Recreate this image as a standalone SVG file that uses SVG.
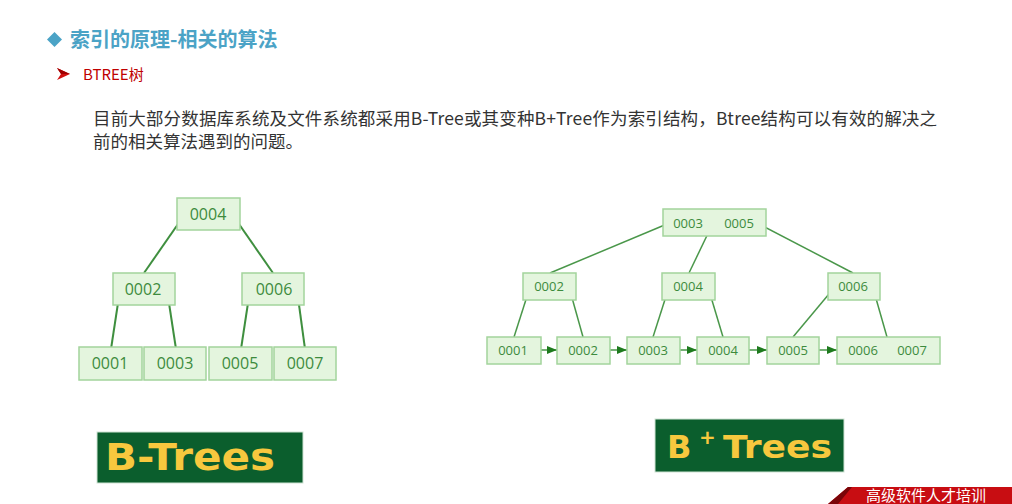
<svg xmlns="http://www.w3.org/2000/svg" width="1012" height="504" viewBox="0 0 1012 504">
<defs>
<style>
.cjk{font-family:"Noto Sans CJK SC","Noto Sans",sans-serif}
.box{fill:#e4f5de;stroke:#a3d49c;stroke-width:1.5}
.t16{font-family:"Open Sans","Noto Sans",sans-serif;font-size:16px;fill:#3d8b3d;text-anchor:middle;dominant-baseline:central}
.t13{font-family:"Open Sans","Noto Sans",sans-serif;font-size:13px;fill:#3d8b3d;text-anchor:middle;dominant-baseline:central}
.ln{stroke:#3f8f3f;stroke-width:2;fill:none}
.ln2{stroke:#4a974a;stroke-width:1.5;fill:none}
.lbl{font-family:"DejaVu Sans",sans-serif;font-weight:bold;fill:#f7c83e}
</style>
<marker id="ah" markerWidth="10" markerHeight="8" refX="10" refY="4" orient="auto" markerUnits="userSpaceOnUse">
<path d="M0,0 L10,4 L0,8 Z" fill="#1e7a1e"/>
</marker>
</defs>
<rect width="1012" height="504" fill="#ffffff"/>

<!-- header -->
<polygon points="54.5,32 62,39.5 54.5,47 47,39.5" fill="#4ba3c6"/>
<text x="70" y="47" class="cjk" font-size="20" font-weight="bold" fill="#4ba3c6">索引的原理-相关的算法</text>
<polygon points="57,68 70,74 57,80 61,74" fill="#d01010"/>
<polygon points="57,68 70,74 61,74" fill="#a00000"/>
<text x="83" y="80" class="cjk" font-size="15" fill="#c00000">BTREE树</text>
<text x="93" y="125" class="cjk" font-size="17.5" fill="#333333" textLength="844" lengthAdjust="spacing">目前大部分数据库系统及文件系统都采用B-Tree或其变种B+Tree作为索引结构，Btree结构可以有效的解决之</text>
<text x="93" y="148" class="cjk" font-size="17.5" fill="#333333">前的相关算法遇到的问题。</text>

<!-- connectors -->
<g id="connectors">
<line class="ln" x1="185" y1="214" x2="144" y2="273"/>
<line class="ln" x1="232" y1="214" x2="273" y2="273"/>
<line class="ln" x1="120" y1="290" x2="111" y2="349"/>
<line class="ln" x1="167" y1="290" x2="176" y2="349"/>
<line class="ln" x1="250" y1="290" x2="241" y2="349"/>
<line class="ln" x1="297" y1="290" x2="305" y2="349"/>

<line class="ln2" x1="667" y1="224" x2="550" y2="273"/>
<line class="ln2" x1="713" y1="223" x2="689" y2="273"/>
<line class="ln2" x1="759" y1="224" x2="853" y2="273"/>
<line class="ln2" x1="530" y1="287" x2="514" y2="337"/>
<line class="ln2" x1="569" y1="287" x2="583" y2="337"/>
<line class="ln2" x1="669" y1="287" x2="653" y2="337"/>
<line class="ln2" x1="708" y1="287" x2="723" y2="337"/>
<line class="ln2" x1="834" y1="288" x2="793" y2="337"/>
<line class="ln2" x1="873" y1="288" x2="887" y2="337"/>

<line class="ln2" x1="533" y1="350" x2="557" y2="350" marker-end="url(#ah)"/>
<line class="ln2" x1="603" y1="350" x2="627" y2="350" marker-end="url(#ah)"/>
<line class="ln2" x1="673" y1="350" x2="697" y2="350" marker-end="url(#ah)"/>
<line class="ln2" x1="743" y1="350" x2="767" y2="350" marker-end="url(#ah)"/>
<line class="ln2" x1="812" y1="350" x2="837" y2="350" marker-end="url(#ah)"/>
</g>

<!-- B-Tree nodes -->
<g id="bt-0004"><rect class="box" x="177" y="198" width="63" height="32"/><text class="t16" x="208" y="214">0004</text></g>
<g id="bt-0002"><rect class="box" x="113" y="273" width="62" height="32"/><text class="t16" x="143" y="289">0002</text></g>
<g id="bt-0006"><rect class="box" x="242" y="273" width="62" height="32"/><text class="t16" x="274" y="289">0006</text></g>
<g id="bt-0001"><rect class="box" x="79" y="347" width="63" height="33"/><text class="t16" x="110" y="363">0001</text></g>
<g id="bt-0003"><rect class="box" x="144" y="347" width="62" height="33"/><text class="t16" x="175" y="363">0003</text></g>
<g id="bt-0005"><rect class="box" x="209" y="347" width="63" height="33"/><text class="t16" x="240" y="363">0005</text></g>
<g id="bt-0007"><rect class="box" x="274" y="347" width="62" height="33"/><text class="t16" x="305" y="363">0007</text></g>

<!-- B+ Tree nodes -->
<g id="bp-root"><rect class="box" x="663" y="209" width="103" height="27"/><text class="t13" x="688" y="223">0003</text><text class="t13" x="739" y="223">0005</text></g>
<g id="bp-0002"><rect class="box" x="523" y="273" width="53" height="27"/><text class="t13" x="549" y="286">0002</text></g>
<g id="bp-0004"><rect class="box" x="662" y="273" width="53" height="27"/><text class="t13" x="688" y="286">0004</text></g>
<g id="bp-0006"><rect class="box" x="828" y="273" width="52" height="27"/><text class="t13" x="853" y="286">0006</text></g>
<g id="bp-l0001"><rect class="box" x="487" y="337" width="54" height="27"/><text class="t13" x="513" y="350">0001</text></g>
<g id="bp-l0002"><rect class="box" x="557" y="337" width="53" height="27"/><text class="t13" x="583" y="350">0002</text></g>
<g id="bp-l0003"><rect class="box" x="627" y="337" width="53" height="27"/><text class="t13" x="653" y="350">0003</text></g>
<g id="bp-l0004"><rect class="box" x="697" y="337" width="52" height="27"/><text class="t13" x="723" y="350">0004</text></g>
<g id="bp-l0005"><rect class="box" x="767" y="337" width="52" height="27"/><text class="t13" x="793" y="350">0005</text></g>
<g id="bp-l0006"><rect class="box" x="837" y="337" width="103" height="27"/><text class="t13" x="863" y="350">0006</text><text class="t13" x="912" y="350">0007</text></g>

<!-- labels -->
<g id="label-btrees">
<rect x="97" y="432" width="206" height="51" fill="#0b5e2d" stroke="#cfe3d4" stroke-width="1"/>
<text class="lbl" x="105" y="470" font-size="38" textLength="170" lengthAdjust="spacingAndGlyphs">B-Trees</text>
</g>
<g id="label-bplus">
<rect x="655" y="419" width="189" height="53" fill="#0b5e2d" stroke="#cfe3d4" stroke-width="1"/>
<text class="lbl" x="667" y="458" font-size="32">B</text>
<text class="lbl" x="699" y="444" font-size="20">+</text>
<text class="lbl" x="723" y="458" font-size="32" textLength="109" lengthAdjust="spacingAndGlyphs">Trees</text>
</g>

<!-- footer -->
<g id="footer">
<polygon points="828,504 848,487 1012,487 1012,504" fill="#c80d12"/>
<polygon points="828,504 848,487 852,487 838,504" fill="#7a0508"/>
<text x="866" y="501" class="cjk" font-size="15" fill="#ffffff">高级软件人才培训</text>
</g>
</svg>
